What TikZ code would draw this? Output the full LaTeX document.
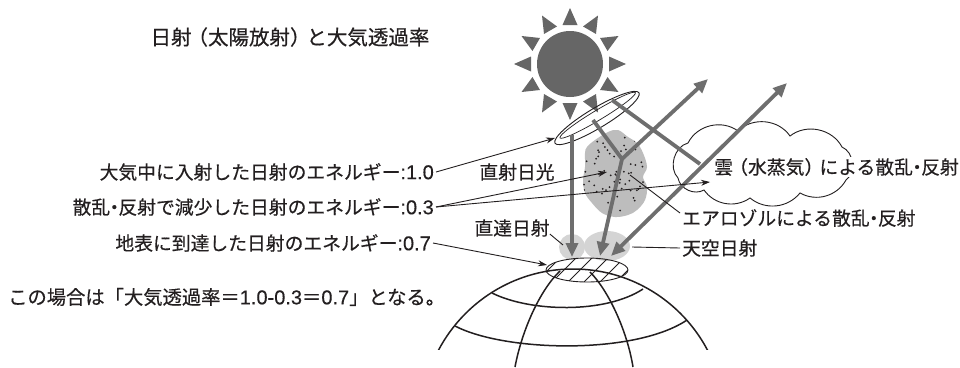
\documentclass[tikz,border=0pt]{standalone}
\usepackage{fontspec}
\setmainfont{Noto Sans CJK JP}[FakeBold=0.4]
\newfontfamily\latinfont{Liberation Sans}[FakeBold=0.3]
\usetikzlibrary{arrows.meta,calc}
\definecolor{sungray}{HTML}{666666}
\definecolor{raygray}{HTML}{6E6E6E}
\definecolor{aerogray}{HTML}{BDBDBD}
\definecolor{skygray}{HTML}{D4D4D4}
\definecolor{ink}{HTML}{231F20}
% tight middle dot and Latin figures
\newcommand\dotsep{\kern-.28em・\kern-.28em}
\newcommand\fig[1]{{\latinfont\fontsize{20pt}{22pt}\selectfont #1}}

\begin{document}
\begin{tikzpicture}[x=1pt,y=-1pt,
  lbl/.style={font=\fontsize{18.8pt}{22pt}\selectfont, text=ink, inner sep=2pt},
  inkline/.style={draw=ink, line width=0.9pt},
  lead/.style={inkline, -{Stealth[length=9pt,width=6pt]}},
  globeline/.style={draw=ink, line width=1.5pt},
  beam/.style={draw=raygray, line width=3.8pt},
  beamtip/.style={beam, -{Triangle[length=14pt,width=12pt]}},
]
\useasboundingbox (0,0) rectangle (960,367);
\fill[white] (0,0) rectangle (960,367);

% cloud of water vapour
\draw[inkline, fill=white] (678,178) to[bend left=60] (688,143) to[bend left=50] (738,131)
  to[bend left=50] (790,136) to[bend left=50] (842,147) to[bend left=60] (846,180)
  to[bend left=45] (800,193) to[bend left=45] (750,198) to[bend left=45] (704,190)
  to[bend left=55] (678,178) -- cycle;

% aerosol patch with particles
\def\aerosolpath{plot[smooth cycle, tension=0.6] coordinates {(587,147) (595,140) (608,132) (618,130)
  (628,137) (637,143) (643,153) (647,167) (643,177) (647,187) (645,200) (637,210) (628,215)
  (615,217) (602,213) (592,203) (585,193) (583,180) (585,167) (585,153)}}
\fill[aerogray] \aerosolpath;
\begin{scope}
  \clip \aerosolpath;
  \pgfmathsetseed{11}
  \foreach \i in {1,...,75}
    \fill[ink] ({583+65*rnd},{130+87*rnd}) circle[radius=1pt];
\end{scope}

% scattered light near the ground
\fill[skygray] (572,247) circle[radius=13pt];
\fill[skygray] (607,246) ellipse[x radius=23pt, y radius=15pt];

% globe
\begin{scope}
  \clip (0,0) rectangle (960,349);
  \draw[globeline] (573,421) circle[radius=152pt];
\end{scope}
\draw[globeline] (492,293) .. controls (530,312) and (605,314) .. (643,289);
\draw[globeline] (455,326) .. controls (505,352) and (635,355) .. (687,320);
\draw[globeline] (560,271) .. controls (540,290) and (522,330) .. (515,367);
\draw[globeline] (590,272) .. controls (608,290) and (627,330) .. (633,367);

% hatched patch of ground
\begin{scope}
  \clip (587,270) ellipse[x radius=41pt, y radius=12pt];
  \foreach \h in {532,548,...,628}
    \draw[inkline, line width=0.8pt] (\h,286) -- ({\h+32},254);
\end{scope}
\draw[inkline] (587,270) ellipse[x radius=41pt, y radius=12pt];

% sun
\coordinate (sun) at (570,64);
\fill[sungray] (sun) circle[radius=33pt];
\foreach \a in {0,30,...,330}
  \fill[sungray, rotate around={\a:(sun)}] (609,56.5) -- (626,64) -- (609,71.5) -- cycle;

% top of the atmosphere
\draw[inkline, rotate around={31:(597,118)}] (597,118) ellipse[x radius=49pt, y radius=10pt];
\draw[inkline, line width=0.7pt, rotate around={31:(597,118)}] (599,116) ellipse[x radius=44pt, y radius=5pt];

% labels
\node[lbl, font=\fontsize{20.5pt}{24pt}\selectfont] (title) at (290,37)
  {日射\kern-.2em（太陽放射）\kern-.2em と大気透過率};
\node[lbl, anchor=east] (lblIn) at (436,172) {大気中に入射した日射のエネルギー\fig{:1.0}};
\node[lbl, anchor=east] (lblLoss) at (436,207) {散乱\dotsep 反射で減少した日射のエネルギー\fig{:0.3}};
\node[lbl, anchor=east] (lblGround) at (433,243) {地表に到達した日射のエネルギー\fig{:0.7}};
\node[lbl] (lblDirect) at (517,172) {直射日光};
\node[lbl] (lblBeam) at (512,228) {直達日射};
\node[lbl, anchor=west] (lblDiffuse) at (680,248) {天空日射};
\node[lbl, anchor=west] (lblAerosol) at (680,218) {エアロゾルによる散乱\dotsep 反射};
\node[lbl, anchor=west, fill=white, inner sep=1pt] (lblCloud) at (713,167)
  {雲\kern-.2em（水蒸気）\kern-.2em による散乱\dotsep 反射};
\node[lbl, anchor=west, font=\fontsize{19.3pt}{22pt}\selectfont] (note) at (6,297)
  {この場合は「大気透過率＝\fig{1.0-0.3}＝\fig{0.7}」となる。};

% solar beams
\coordinate (d0) at (572,135);  \coordinate (d1) at (572,257);
\coordinate (a0) at (593,120);  \coordinate (aj) at (622,159);
\coordinate (aup) at (708,79);  \coordinate (adn) at (600,256);
\coordinate (c0) at (612,100);  \coordinate (cj) at (700,164);
\coordinate (cup) at (787,83);  \coordinate (cdn) at (611,256);
\draw[beamtip] (d0) -- (d1);
\draw[beamtip] (a0) -- (aj) -- (adn);
\draw[beamtip] (aj) -- (aup);
\draw[beam] (c0) -- (cj);
\draw[beam, {Triangle[length=14pt,width=12pt]}-{Triangle[length=14pt,width=12pt]}] (cdn) -- (cup);

% leader lines
\coordinate (inTip) at (555,138);
\coordinate (lossA) at (607,172);
\coordinate (lossC) at (710,182);
\coordinate (gndTip) at (547,265);
\coordinate (aeroPt) at (630,175);
\coordinate (skyPt) at (632,247);
\coordinate (beamPt) at (563,245);
\draw[lead] (lblIn.east) -- (inTip);
\draw[lead] (lblLoss.east) -- (lossA);
\draw[lead] (lblLoss.east) -- (lossC);
\draw[lead] (lblGround.east) -- (gndTip);
\draw[inkline] (aeroPt) -- ($(lblAerosol.west)+(0,-5)$);
\draw[inkline] (skyPt) -- (lblDiffuse.west);
\draw[inkline] ($(lblBeam.east)+(-2,6)$) -- (beamPt);
\end{tikzpicture}
\end{document}
